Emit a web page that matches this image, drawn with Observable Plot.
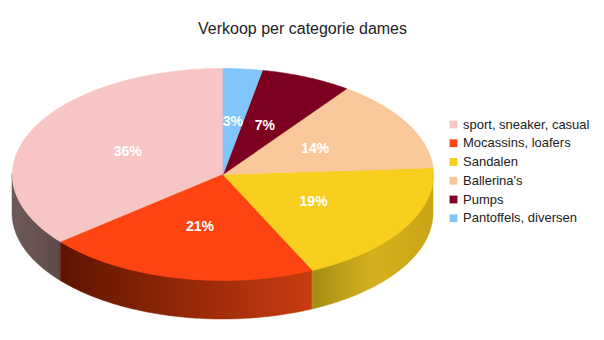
<!DOCTYPE html>
<html>
<head>
<meta charset="utf-8">
<script src="https://cdn.jsdelivr.net/npm/d3@7"></script>
<script src="https://cdn.jsdelivr.net/npm/@observablehq/plot@0.6"></script>
<style>
  html, body { margin: 0; padding: 0; background: #fff; }
  #chart svg { display: block; }
</style>
</head>
<body>
<div id="chart"></div>
<script>
// ---- data ----
const title = "Verkoop per categorie dames";
const categories = ["sport, sneaker, casual", "Mocassins, loafers", "Sandalen", "Ballerina's", "Pumps", "Pantoffels, diversen"];
const values = [36, 21, 19, 14, 7, 3];
const colors = ["#f8c5c5", "#fd4411", "#f8ce1f", "#f8c89b", "#7e0021", "#80c6fc"];
const sideGradients = [
  ["#6f5a5a", "#5f4a4a"],
  ["#5f1400", "#c93c10"],
  ["#a48d12", "#d6b11f", "#c9a416"]
];

// ---- geometry (layout) ----
const W = 604, H = 340;
const cx = 222.5, cy = 174, rx = 210.5, ry = 106, depth = 39;
const total = d3.sum(values);
let cum = 0;
const slices = values.map((v, i) => {
  const t0 = cum / total; cum += v;
  return {cat: categories[i], value: v, i, t0, t1: cum / total};
});
const pt = t => {
  const a = 2 * Math.PI * t;
  return [cx - rx * Math.sin(a), cy - ry * Math.cos(a)];
};
const arcPts = (t0, t1) => {
  const n = Math.max(2, Math.ceil((t1 - t0) * 400));
  return d3.range(n + 1).map(k => pt(t0 + (t1 - t0) * k / n));
};

// top faces
const topPts = [];
for (const s of slices) {
  topPts.push({cat: s.cat, x: cx, y: cy});
  for (const [x, y] of arcPts(s.t0, s.t1)) topPts.push({cat: s.cat, x, y});
  topPts.push({cat: s.cat, x: cx, y: cy});
}

// side faces (visible lower half: t in [0.25, 0.75])
const sideMarks = [];
slices.forEach((s, i) => {
  const a = Math.max(s.t0, 0.25), b = Math.min(s.t1, 0.75);
  if (b <= a) return;
  const pts = arcPts(a, b).map(([x, y]) => ({cat: s.cat, x, y, y2: y + depth}));
  sideMarks.push(Plot.area(pts, {x1: "x", y1: "y", y2: "y2", fill: `url(#side${i})`, stroke: `url(#side${i})`, strokeWidth: 0.5}));
});

// labels
const labelData = slices.map(s => {
  const a = 2 * Math.PI * (s.t0 + s.t1) / 2;
  return {x: cx - 0.5 * rx * Math.sin(a), y: cy - 0.5 * ry * Math.cos(a), text: s.value + "%"};
});

const font = "Liberation Sans, Arial, sans-serif";
const legendY = (d, i) => 124 + i * 18.75;

const chart = Plot.plot({
  width: W, height: H,
  margin: 0,
  x: {domain: [0, W], range: [0, W], axis: null},
  y: {domain: [0, H], range: [0, H], axis: null},
  color: {domain: categories, range: colors},
  style: {fontFamily: font, background: "#fff"},
  marks: [
    ...sideMarks,
    Plot.line(topPts, {x: "x", y: "y", z: "cat", fill: "cat", stroke: "cat", strokeWidth: 0.6, curve: "linear"}),
    Plot.text(labelData, {x: "x", y: "y", text: "text", fill: "white", fontWeight: "bold", fontSize: 14}),
    Plot.text([title], {x: () => 302, y: () => 28.5, text: d => d, fontSize: 16, fill: "#222"}),
    Plot.dot(categories, {x: () => 453, y: legendY, symbol: "square", r: 4.4, fill: d => d}),
    Plot.text(categories, {x: () => 462.5, y: legendY, text: d => d, textAnchor: "start", fontSize: 13, fill: "#222"})
  ]
});

// gradient definitions for the side shading
const ns = "http://www.w3.org/2000/svg";
const defs = document.createElementNS(ns, "defs");
sideGradients.forEach((stops, i) => {
  const g = document.createElementNS(ns, "linearGradient");
  g.setAttribute("id", "side" + i);
  g.setAttribute("x1", "0"); g.setAttribute("x2", "1");
  g.setAttribute("y1", "0"); g.setAttribute("y2", "0");
  stops.forEach((c, k) => {
    const st = document.createElementNS(ns, "stop");
    st.setAttribute("offset", stops.length === 1 ? 0 : k / (stops.length - 1));
    st.setAttribute("stop-color", c);
    g.appendChild(st);
  });
  defs.appendChild(g);
});
chart.insertBefore(defs, chart.firstChild);
document.getElementById("chart").appendChild(chart);
</script>
</body>
</html>
